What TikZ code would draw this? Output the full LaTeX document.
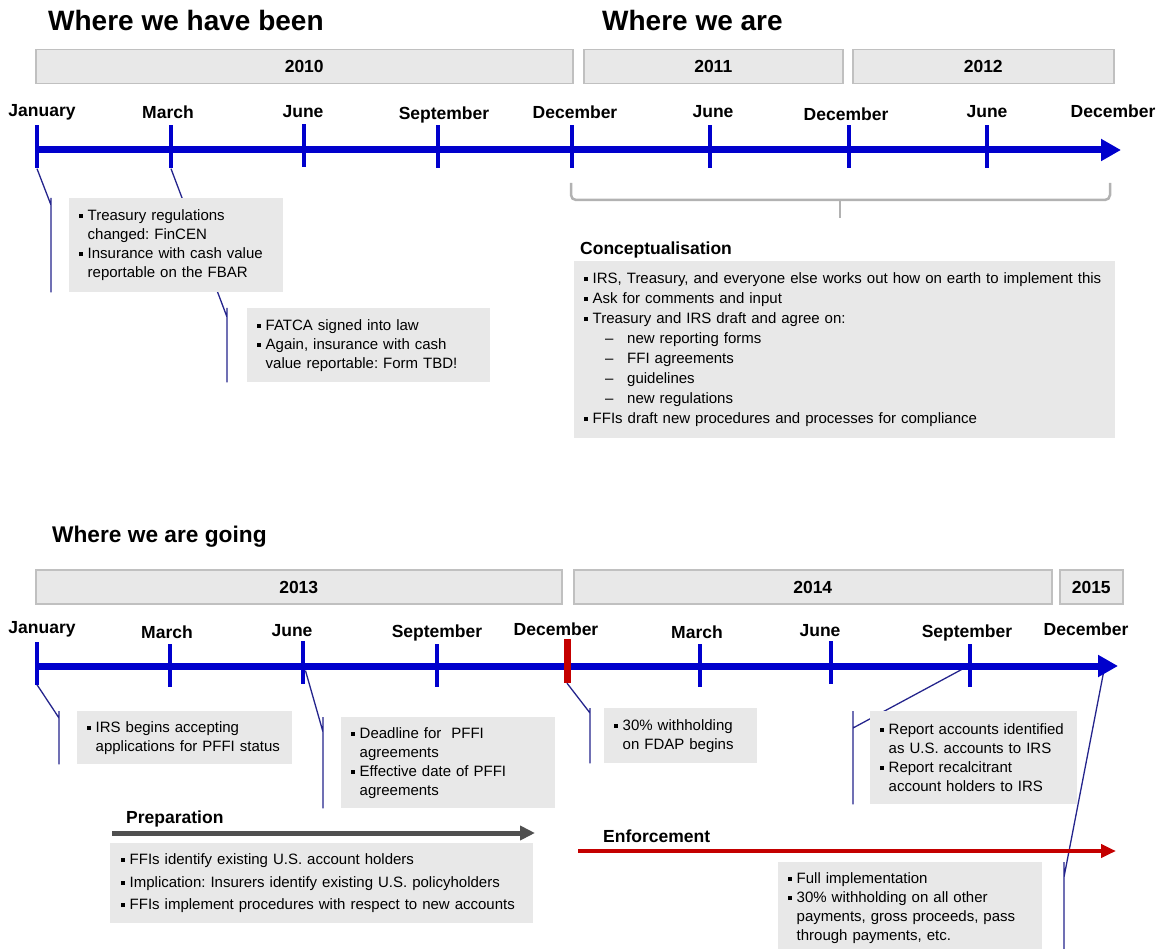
\documentclass[tikz,border=0pt]{standalone}
\usepackage{fontspec}
\setmainfont{Liberation Sans}
\usetikzlibrary{positioning, calc, arrows.meta, backgrounds}
\frenchspacing
\definecolor{tlblue}{RGB}{0,0,204}
\definecolor{tlred}{RGB}{196,0,0}
\definecolor{leadblue}{RGB}{36,36,140}
\definecolor{boxgray}{RGB}{232,232,232}
\definecolor{edgegray}{RGB}{192,192,192}
\definecolor{bracegray}{RGB}{178,178,178}
\definecolor{prepgray}{RGB}{80,80,80}
\newcommand{\bul}{\makebox[8.5pt][l]{\rule[2.5pt]{3.8pt}{3.8pt}}}
\newcommand{\bulind}{\hspace*{8.5pt}}
\newcommand{\dashitem}{\hspace*{21pt}\makebox[22pt][l]{--}}
\tikzset{
  yearbox/.style={draw=edgegray, fill=boxgray, line width=1.5pt, anchor=north west, minimum height=34pt, inner sep=0pt, text height=12.5pt, text depth=0pt, font=\bfseries\fontsize{17.5}{20}\selectfont},
  month/.style={anchor=base, inner sep=0pt, font=\bfseries\fontsize{17.5}{20}\selectfont},
  tick/.style={fill=tlblue, minimum width=4.5pt, minimum height=43pt, inner sep=0pt},
  timeline/.style={draw=tlblue, line width=7pt, -{Triangle[length=20pt,width=21pt]}},
  lead/.style={draw=leadblue, line width=1.3pt},
  note/.style={fill=boxgray, anchor=north west, inner xsep=10pt, inner ysep=0pt, align=left, font=\fontsize{15}{19}\selectfont},
  title/.style={anchor=base west, inner sep=0pt, font=\bfseries\fontsize{28}{32}\selectfont},
  phase/.style={anchor=base west, inner sep=0pt, font=\bfseries\fontsize{17.5}{20}\selectfont},
  prep/.style={draw=prepgray, line width=5pt, -{Triangle[length=15pt,width=14pt]}},
  enforce/.style={draw=tlred, line width=4.5pt, -{Triangle[length=15pt,width=13pt]}},
}

\begin{document}
\begin{tikzpicture}[x=1pt,y=-1pt]
  \useasboundingbox (0,0) rectangle (1159,949);

  % past and present
  \node[title] (WB) at (48,31) {Where we have been};
  \node[title] (WA) at (602,31) {Where we are};

  \node[yearbox, minimum width=537pt] (Y10) at (35,49) {2010};
  \node[yearbox, minimum width=259pt] (Y11) at (583,49) {2011};
  \node[yearbox, minimum width=261pt] (Y12) at (852,49) {2012};

  \coordinate (S1) at (37,150);
  \coordinate (E1) at (1121,150);
  \draw[timeline] (S1) -- (E1);

  \node[tick] (T1) at (37,147) {};
  \node[tick] (T2) at (171,147) {};
  \node[tick] (T3) at (304,146) {};
  \node[tick] (T4) at (438,147) {};
  \node[tick] (T5) at (572,147) {};
  \node[tick] (T6) at (710,147) {};
  \node[tick] (T7) at (849,147) {};
  \node[tick] (T8) at (987,147) {};

  \node[month] (M1) at (42,117) {January};
  \node[month] (M2) at (168,119) {March};
  \node[month] (M3) at (303,118) {June};
  \node[month] (M4) at (444,120) {September};
  \node[month] (M5) at (575,119) {December};
  \node[month] (M6) at (713,118) {June};
  \node[month] (M7) at (846,121) {December};
  \node[month] (M8) at (987,118) {June};
  \node[month] (M9) at (1113,118) {December};

  % bracket over 2011-2012
  \draw[bracegray, line width=2.5pt, rounded corners=5pt] (571,183) -- (571,200) -- (1110,200) -- (1110,183);
  \draw[bracegray, line width=1.5pt] (840,200) -- (840,218);

  \node[note, text width=194pt, minimum height=94pt] (b1) at (69,198)
    {\bul Treasury regulations\\ \bulind changed: FinCEN\\ \bul Insurance with cash value\\ \bulind reportable on the FBAR};
  \node[note, text width=223pt, minimum height=74pt] (b2) at (247,308)
    {\bul FATCA signed into law\\ \bul Again, insurance with cash\\ \bulind value reportable: Form TBD!};

  \node[phase] (CT) at (580,255) {Conceptualisation};
  \node[note, text width=521pt, minimum height=177pt, font=\fontsize{15}{20}\selectfont] (b3) at (574,261)
    {\bul IRS, Treasury, and everyone else works out how on earth to implement this\\
     \bul Ask for comments and input\\
     \bul Treasury and IRS draft and agree on:\\
     \dashitem new reporting forms\\
     \dashitem FFI agreements\\
     \dashitem guidelines\\
     \dashitem new regulations\\
     \bul FFIs draft new procedures and processes for compliance};

  % future
  \node[title, font=\bfseries\fontsize{22.7}{26}\selectfont] (WG) at (52,542) {Where we are going};

  \node[yearbox, minimum width=526pt] (Y13) at (35,569) {2013};
  \node[yearbox, minimum width=478pt] (Y14) at (573,569) {2014};
  \node[yearbox, minimum width=63pt] (Y15) at (1059,569) {2015};

  \coordinate (S2) at (37,666);
  \coordinate (E2) at (1118,666);
  \draw[timeline] (S2) -- (E2);

  \node[tick] (B1) at (37,663) {};
  \node[tick] (B2) at (170,665) {};
  \node[tick] (B3) at (303,662) {};
  \node[tick] (B4) at (437,665) {};
  \node[tick, fill=tlred, minimum width=7pt, minimum height=44pt] (R) at (567,661) {};
  \node[tick] (B6) at (700,665) {};
  \node[tick] (B7) at (831,662) {};
  \node[tick] (B8) at (970,665) {};

  \node[month] (N1) at (42,633) {January};
  \node[month] (N2) at (167,638) {March};
  \node[month] (N3) at (292,636) {June};
  \node[month] (N4) at (437,637) {September};
  \node[month] (N5) at (556,635) {December};
  \node[month] (N6) at (697,638) {March};
  \node[month] (N7) at (820,636) {June};
  \node[month] (N8) at (967,637) {September};
  \node[month] (N9) at (1086,635) {December};

  \node[note, text width=195pt, minimum height=53pt] (c1) at (77,711)
    {\bul IRS begins accepting\\ \bulind applications for PFFI status};
  \node[note, text width=194pt, minimum height=91pt] (c2) at (341,717)
    {\bul Deadline for\ \ PFFI\\ \bulind agreements\\ \bul Effective date of PFFI\\ \bulind agreements};
  \node[note, text width=133pt, minimum height=55pt] (c3) at (604,708)
    {\bul 30\% withholding\\ \bulind on FDAP begins};
  \node[note, text width=187pt, minimum height=93pt] (c4) at (870,711)
    {\bul Report accounts identified\\ \bulind as U.S. accounts to IRS\\ \bul Report recalcitrant\\ \bulind account holders to IRS};

  \node[phase] (PT) at (126,823) {Preparation};
  \coordinate (P0) at (112,833);
  \coordinate (P1) at (535,833);
  \draw[prep] (P0) -- (P1);
  \node[note, text width=401pt, inner xsep=11pt, minimum height=80pt, font=\fontsize{15}{22.6}\selectfont] (c5) at (110,843)
    {\bul FFIs identify existing U.S. account holders\\
     \bul Implication: Insurers identify existing U.S. policyholders\\
     \bul FFIs implement procedures with respect to new accounts};

  \node[phase] (ET) at (603,842) {Enforcement};
  \coordinate (F0) at (578,851);
  \coordinate (F1) at (1116,851);
  \draw[enforce] (F0) -- (F1);
  \node[note, text width=244pt, minimum height=92pt] (c6) at (778,862)
    {\bul Full implementation\\ \bul 30\% withholding on all other\\ \bulind payments, gross proceeds, pass\\ \bulind through payments, etc.};

  % callout lines
  \begin{scope}[on background layer]
    \coordinate (k1) at (51,205);
    \draw[lead] (T1.south) -- (k1) (k1 |- b1.north) -- (k1 |- b1.south);
    \coordinate (k2) at (227,317);
    \draw[lead] (T2.south) -- (k2) (k2 |- b2.north) -- (k2 |- b2.south);
    \coordinate (k3) at (59,718);
    \draw[lead] (B1.south) -- (k3) (k3 |- c1.north) -- (k3 |- c1.south);
    \coordinate (k4) at (323,732);
    \draw[lead] (B3) -- (k4) (k4 |- c2.north) -- (k4 |- c2.south);
    \coordinate (k5) at (590,713);
    \draw[lead] (R.south) -- (k5) (k5 |- c3.north) -- (k5 |- c3.south);
    \coordinate (k6) at (853,728);
    \draw[lead] (B8) -- (k6) (k6 |- c4.north) -- (k6 |- c4.south);
    \coordinate (k7) at (1104,670);
    \coordinate (k8) at (1064,877);
    \draw[lead] (k7) -- (k8) (k8 |- c6.north) -- (k8 |- c6.south);
  \end{scope}
\end{tikzpicture}
\end{document}
